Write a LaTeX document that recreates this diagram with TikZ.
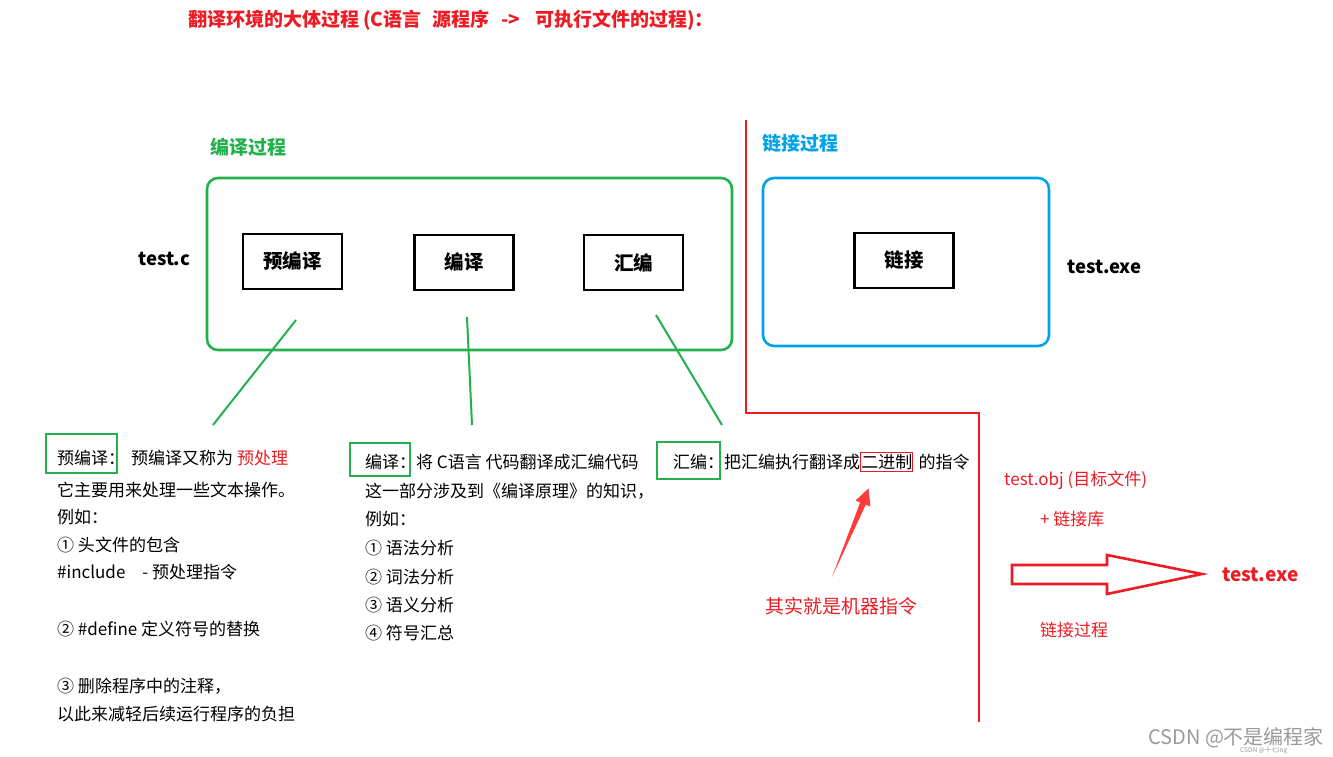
\documentclass[tikz,border=0pt]{standalone}
\usepackage{fontspec}
\setmainfont{Noto Sans CJK SC}
\definecolor{tred}{HTML}{ED1C24}
\definecolor{tgreen}{HTML}{22B14C}
\definecolor{tblue}{HTML}{00A2E8}
\definecolor{ared}{HTML}{FF3B3B}
\definecolor{wgray}{HTML}{9A9A9A}
\begin{document}
\begin{tikzpicture}[x=1pt,y=-1pt,
  txt/.style={anchor=west,inner sep=0pt,font=\fontsize{17}{20}\selectfont},
  bold/.style={anchor=west,inner sep=0pt,font=\fontsize{19}{22}\selectfont\bfseries},
  stagebox/.style={draw=black,line width=2.6pt,minimum width=99pt,minimum height=55pt,inner sep=0pt,font=\fontsize{19.5}{22}\selectfont\bfseries},
  groupbox/.style={rounded corners=11pt,line width=2.6pt,inner sep=0pt},
  tagbox/.style={draw=tgreen,line width=2.2pt},
  lead/.style={tgreen,line width=2pt},
  divider/.style={tred,line width=2.2pt},
]
\useasboundingbox (0,0) rectangle (1333,757);
\fill[white] (0,0) rectangle (1333,757);

% title
\node[bold,text=tred,font=\fontsize{19}{22}\selectfont\bfseries] (title) at (188,20) {翻译环境的大体过程\hspace{4pt}(C语言\hspace{11pt}源程序\hspace{12pt}->\hspace{15pt}可执行文件的过程)：};

% group labels
\node[bold,text=tgreen] (clabel) at (210,147) {编译过程};
\node[bold,text=tblue] (llabel) at (762,143) {链接过程};

% group boxes
\node[groupbox,draw=tgreen,minimum width=525pt,minimum height=172pt] (cgroup) at (469.5,264) {};
\node[groupbox,draw=tblue,minimum width=286pt,minimum height=168pt] (lgroup) at (906,262) {};

% stages
\node[stagebox] (pre) at (292.5,261.5) {预编译};
\node[stagebox] (comp) at (464,262.5) {编译};
\node[stagebox] (asm) at (633.5,262.5) {汇编};
\node[stagebox] (link) at (904,260.5) {链接};

\node[bold,font=\fontsize{18.5}{22}\selectfont\bfseries] (testc) at (138,259) {test.c};
\node[bold,font=\fontsize{18.5}{22}\selectfont\bfseries] (testexe) at (1067,267) {test.exe};

% leader lines
\coordinate (p1) at (296,320); \coordinate (q1) at (213,425);
\coordinate (p2) at (467,317); \coordinate (q2) at (472,425);
\coordinate (p3) at (656,315); \coordinate (q3) at (722,425);
\draw[lead] (p1) -- (q1);
\draw[lead] (p2) -- (q2);
\draw[lead] (p3) -- (q3);

% red divider
\coordinate (d1) at (746,120); \coordinate (d2) at (746,413);
\coordinate (d3) at (979,413); \coordinate (d4) at (979,722);
\draw[divider] (d1) -- (d2) -- (d3) -- (d4);

% pre-compile notes
\draw[tagbox] (46,434) rectangle (117,473);
\node[txt] (t1) at (57,458) {预编译：};
\node[txt] (t1b) at (131,458) {预编译又称为 \textcolor{tred}{预处理}};
\node[txt] (t2) at (57,490) {它主要用来处理一些文本操作。};
\node[txt] (t3) at (57,517) {例如：};
\node[txt] (t4) at (57,545) {① 头文件的包含};
\node[txt] (t5) at (57,572) {\#include\hspace{17pt}- 预处理指令};
\node[txt] (t6) at (57,629) {② \#define 定义符号的替换};
\node[txt] (t7) at (57,686) {③ 删除程序中的注释，};
\node[txt] (t8) at (57,714) {以此来减轻后续运行程序的负担};

% compile notes
\draw[tagbox] (350,443) rectangle (410,476);
\node[txt] (c1) at (365,462) {编译：};
\node[txt] (c1b) at (416,462) {将 C语言 代码翻译成汇编代码};
\node[txt] (c2) at (365,491) {这一部分涉及到《编译原理》的知识，};
\node[txt] (c3) at (365,519) {例如：};
\node[txt] (c4) at (365,548) {① 语法分析};
\node[txt] (c5) at (365,577) {② 词法分析};
\node[txt] (c6) at (365,605) {③ 语义分析};
\node[txt] (c7) at (365,633) {④ 符号汇总};

% assemble notes
\draw[tagbox] (657,442) rectangle (720,479);
\node[txt] (a1) at (673,462) {汇编：};
\node[txt] (a1b) at (724,462) {把汇编执行翻译成};
\node[txt,draw=tred,line width=0.9pt,inner xsep=0.5pt,inner ysep=2pt] (bin) at (a1b.east) {二进制};
\node[txt] (a1c) at ([xshift=5pt]bin.east) {的指令};

% pointer arrow
\node[txt,text=tred,font=\fontsize{19}{22}\selectfont] (machine) at (765,606) {其实就是机器指令};
\fill[ared] (832,577) -- (860.2,502.4) -- (855.6,500.5) -- (868.5,488.5) -- (870.4,506.5) -- (865.8,504.6) -- cycle;

% link notes
\node[txt,text=tred] (obj) at (1004,480) {test.obj (目标文件)};
\node[txt,text=tred] (lib) at (1040,519) {+ 链接库};
\draw[tred,line width=2.6pt,line join=miter] (1012,565) -- (1107,565) -- (1107,555) -- (1202,574) -- (1107,594) -- (1107,584) -- (1012,584) -- cycle;
\node[bold,text=tred,font=\fontsize{19}{22}\selectfont\bfseries] (exe2) at (1222,575) {test.exe};
\node[txt,text=tred] (lproc) at (1040,630) {链接过程};

% watermark
\node[txt,text=wgray,font=\fontsize{20}{22}\selectfont] (wm) at (1148,738) {CSDN @不是编程家};
\node[txt,text=wgray,font=\fontsize{6.5}{8}\selectfont] (wm2) at (1240,751) {CSDN @十七ing};
\end{tikzpicture}
\end{document}
